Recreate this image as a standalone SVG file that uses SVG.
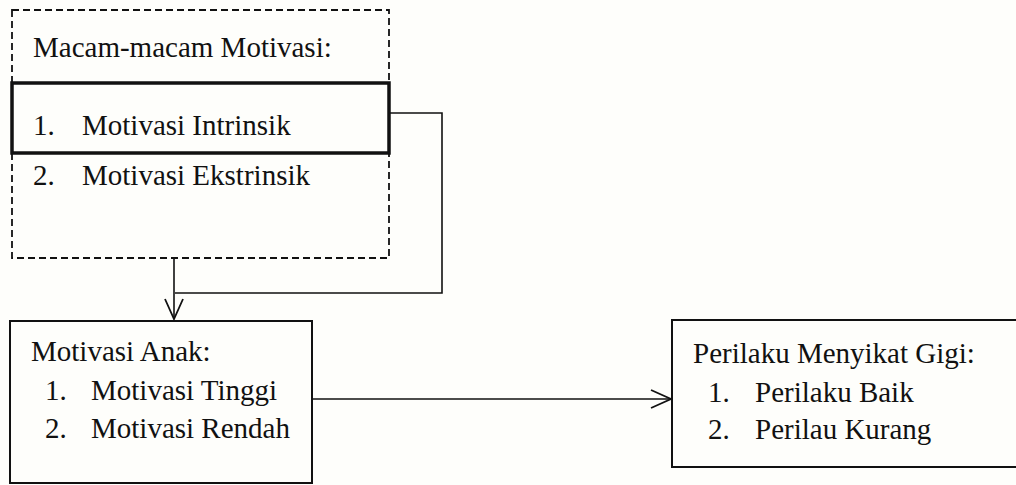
<svg xmlns="http://www.w3.org/2000/svg" width="1016" height="485" viewBox="0 0 1016 485">
<defs>
<style>
text{font-family:"Liberation Serif","Times New Roman",serif;font-size:29px;fill:#111}
.box{fill:none;stroke:#111;stroke-width:2}
.conn{fill:none;stroke:#111;stroke-width:1.6}
</style>
<marker id="arr" markerUnits="userSpaceOnUse" markerWidth="24" markerHeight="22" refX="21" refY="10" orient="auto" viewBox="0 0 24 22">
<polyline points="1,1 21,10 1,19" fill="none" stroke="#111" stroke-width="1.8"/>
</marker>
</defs>
<rect width="1016" height="485" fill="#fefefb"/>
<g id="connectors">
<line class="conn" x1="174" y1="258" x2="174" y2="319" marker-end="url(#arr)"/>
<polyline class="conn" points="389,113 442,113 442,293 175,293"/>
<line class="conn" x1="313" y1="399" x2="671" y2="399" marker-end="url(#arr)"/>
</g>
<g id="macam-motivasi">
<rect x="12" y="10" width="377" height="248" fill="none" stroke="#111" stroke-width="1.8" stroke-dasharray="7,4"/>
<text x="33" y="57">Macam-macam Motivasi:</text>
<text x="33" y="185">2.</text>
<text x="82" y="185">Motivasi Ekstrinsik</text>
</g>
<g id="motivasi-intrinsik">
<rect x="12" y="83" width="377" height="70" fill="none" stroke="#111" stroke-width="3.5"/>
<text x="33" y="135">1.</text>
<text x="82" y="135">Motivasi Intrinsik</text>
</g>
<g id="motivasi-anak">
<rect class="box" x="10" y="321" width="302" height="162"/>
<text x="31" y="361">Motivasi Anak:</text>
<text x="45" y="400">1.</text>
<text x="91" y="400">Motivasi Tinggi</text>
<text x="45" y="438">2.</text>
<text x="91" y="438">Motivasi Rendah</text>
</g>
<g id="perilaku">
<rect class="box" x="672" y="320" width="346" height="147"/>
<text x="693" y="363">Perilaku Menyikat Gigi:</text>
<text x="708" y="402">1.</text>
<text x="755" y="402">Perilaku Baik</text>
<text x="708" y="439">2.</text>
<text x="755" y="439">Perilau Kurang</text>
</g>
</svg>
